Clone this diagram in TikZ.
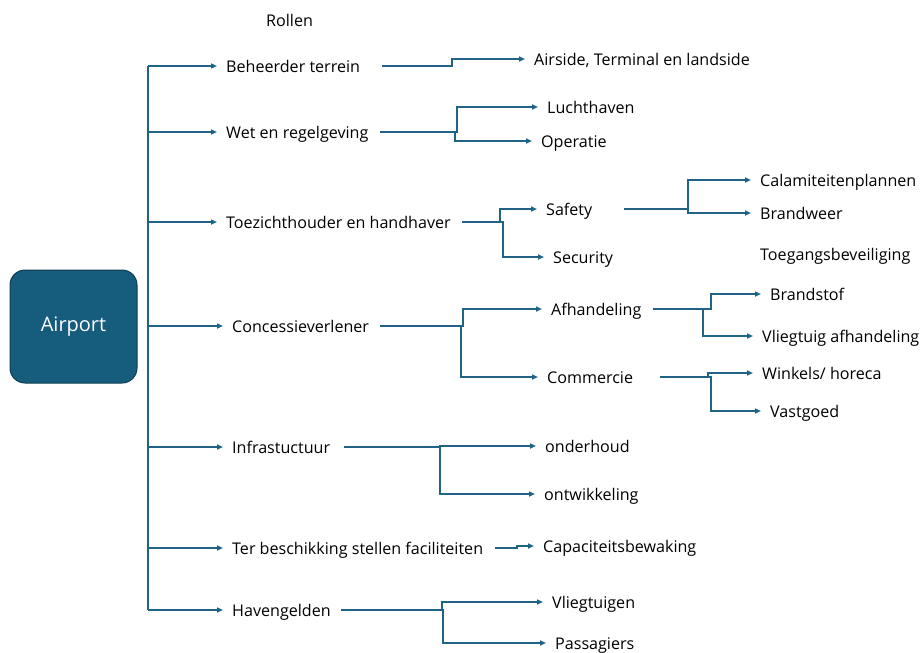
\documentclass[tikz,border=0pt]{standalone}
\usepackage{fontspec}
\setmainfont{Open Sans}
\usetikzlibrary{arrows.meta}
\definecolor{lijnkl}{HTML}{1F6487}
\definecolor{vakkl}{HTML}{165C7D}
\definecolor{randkl}{HTML}{0F3D52}

\begin{document}
\begin{tikzpicture}[x=1pt,y=-1pt]
        \tikzstyle{txt}=[anchor=west, inner sep=0pt, text height=14pt, text depth=2pt, font=\fontsize{16.1}{19}\selectfont]
        \tikzstyle{lijn}=[draw=lijnkl, line width=1.6pt]
        \tikzstyle{pijl}=[lijn, -{Triangle[length=6pt,width=5pt]}, shorten >=9pt]
        \useasboundingbox (0,0) rectangle (922,653);

        \node[draw=randkl, fill=vakkl, rounded corners=15pt, line width=1pt, minimum width=127pt, minimum height=113pt, text=white, font=\fontsize{20}{23}\selectfont] (airport) at (73.5,326.5) {Airport};
        \node[txt] (rollen) at (266,20) {Rollen};

        % rollen
        \node[txt] (beh)   at (226,66)  {Beheerder terrein};
        \node[txt] (wet)   at (226,132) {Wet en regelgeving};
        \node[txt] (toez)  at (226,222) {Toezichthouder en handhaver};
        \node[txt] (conc)  at (232,326) {Concessieverlener};
        \node[txt] (infra) at (232,447) {Infrastuctuur};
        \node[txt] (terb)  at (232,548) {Ter beschikking stellen faciliteiten};
        \node[txt] (haven) at (232,610) {Havengelden};

        % taken
        \node[txt] (air)   at (534,59)  {Airside, Terminal en landside};
        \node[txt] (luch)  at (547,107) {Luchthaven};
        \node[txt] (oper)  at (541,141) {Operatie};
        \node[txt] (safe)  at (546,209) {Safety};
        \node[txt] (secu)  at (553,257) {Security};
        \node[txt] (afh)   at (551,309) {Afhandeling};
        \node[txt] (comm)  at (547,377) {Commercie};
        \node[txt] (onder) at (545,446) {onderhoud};
        \node[txt] (ontw)  at (544,494) {ontwikkeling};
        \node[txt] (capa)  at (543,546) {Capaciteitsbewaking};
        \node[txt] (vlieg) at (552,602) {Vliegtuigen};
        \node[txt] (pass)  at (555,643) {Passagiers};

        \node[txt] (cala)  at (760,180) {Calamiteitenplannen};
        \node[txt] (brand) at (760,213) {Brandweer};
        \node[txt] (toeg)  at (760,254) {Toegangsbeveiliging};
        \node[txt] (bstof) at (770,294) {Brandstof};
        \node[txt] (vafh)  at (762,336) {Vliegtuig afhandeling};
        \node[txt] (wink)  at (762,373) {Winkels/ horeca};
        \node[txt] (vast)  at (770,411) {Vastgoed};

        % stam
        \coordinate (stam) at (148,0);
        \draw[lijn] (stam |- beh) -- (stam |- haven);
        \foreach \r in {beh,wet,toez,conc,infra,terb,haven}
            \draw[pijl] (stam |- \r) -- (\r.west);

        % takken
        \draw[pijl] ([xshift=22]beh.east) -| (452,59) -- (air.west);
        \draw[pijl] ([xshift=11]wet.east) -| (457,107) -- (luch.west);
        \draw[pijl] ([xshift=11]wet.east) -| (455,141) -- (oper.west);
        \draw[pijl] ([xshift=11]toez.east) -| (500,209) -- (safe.west);
        \draw[pijl] ([xshift=11]toez.east) -| (503,257) -- (secu.west);
        \draw[pijl] ([xshift=32]safe.east) -| (688,180) -- (cala.west);
        \draw[pijl] ([xshift=32]safe.east) -| (688,213) -- (brand.west);
        \draw[pijl] ([xshift=11]conc.east) -| (463,309) -- (afh.west);
        \draw[pijl] ([xshift=11]conc.east) -| (461,377) -- (comm.west);
        \draw[pijl] ([xshift=11]afh.east) -| (711,294) -- (bstof.west);
        \draw[pijl] ([xshift=11]afh.east) -| (703,336) -- (vafh.west);
        \draw[pijl] ([xshift=27]comm.east) -| (708,373) -- (wink.west);
        \draw[pijl] ([xshift=27]comm.east) -| (711,411) -- (vast.west);
        \draw[pijl] ([xshift=14]infra.east) -| (440,446) -- (onder.west);
        \draw[pijl] ([xshift=14]infra.east) -| (440,494) -- (ontw.west);
        \draw[pijl] ([xshift=12]terb.east) -| (517,546) -- (capa.west);
        \draw[pijl] ([xshift=10]haven.east) -| (442,602) -- (vlieg.west);
        \draw[pijl] ([xshift=10]haven.east) -| (443,643) -- (pass.west);
    \end{tikzpicture}
\end{document}
